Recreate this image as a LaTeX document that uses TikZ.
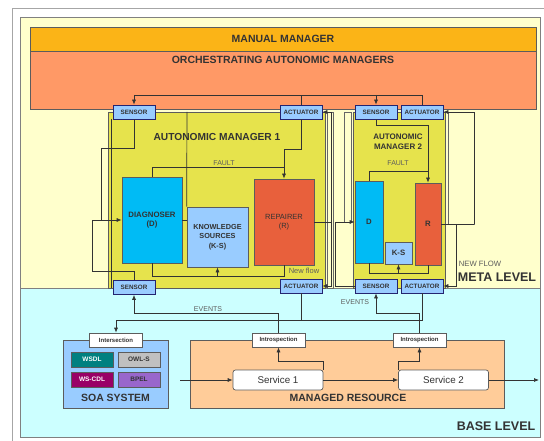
\documentclass[tikz,border=0pt]{standalone}
\usepackage{fontspec}
\setmainfont{Liberation Sans}
\usetikzlibrary{arrows.meta}
\definecolor{metabg}{HTML}{FFFFCC}
\definecolor{basebg}{HTML}{CCFFFF}
\definecolor{manualc}{HTML}{FBB417}
\definecolor{orchc}{HTML}{FF9966}
\definecolor{amc}{HTML}{E6E34C}
\definecolor{sensc}{HTML}{99CCFF}
\definecolor{diagc}{HTML}{00BBF5}
\definecolor{repc}{HTML}{E8603C}
\definecolor{mrc}{HTML}{FFCC99}
\definecolor{wsdlc}{HTML}{008080}
\definecolor{wscdlc}{HTML}{990066}
\definecolor{owlc}{HTML}{C0C0C0}
\definecolor{bpelc}{HTML}{9966CC}
\definecolor{txt}{HTML}{333333}
\definecolor{lnc}{HTML}{333333}
\tikzset{
  conn/.style={draw=lnc, line width=0.7pt},
  arr/.style={conn, -{Latex[length=5pt,width=4pt]}},
  frame/.style={draw=gray!80!black, line width=0.6pt},
  boxed/.style={draw=lnc!80, line width=0.7pt, inner sep=0pt, align=center, text=txt},
  sensbox/.style={boxed, fill=sensc, draw=lnc!70!blue, minimum width=42pt, minimum height=14pt, font=\fontsize{6.3}{7}\selectfont\bfseries},
  compbox/.style={boxed, font=\fontsize{7.8}{9.5}\selectfont\bfseries},
  langbox/.style={boxed, minimum width=42pt, minimum height=15pt, font=\fontsize{6.5}{7}\selectfont\bfseries},
  whitebox/.style={boxed, fill=white, minimum width=53pt, minimum height=14pt, font=\fontsize{6}{7}\selectfont\bfseries},
  svcbox/.style={boxed, fill=white, rounded corners=2.5pt, minimum width=90pt, minimum height=20pt, font=\fontsize{9.8}{11}\selectfont},
  biglabel/.style={text=txt, font=\fontsize{10.5}{12}\selectfont\bfseries, inner sep=0pt},
  small/.style={text=lnc!80, font=\fontsize{7}{8}\selectfont, inner sep=0pt},
}
\begin{document}
\begin{tikzpicture}[x=1pt,y=-1pt]
\useasboundingbox (0,0) rectangle (544,441);
\fill[white] (0,0) rectangle (544,441);
\draw[gray!70, line width=0.8pt] (12,441) -- (12,8) -- (544,8);
% levels
\node[boxed, draw=gray, fill=metabg, minimum width=520pt, minimum height=271pt] (meta) at (280,152.5) {};
\node[boxed, draw=gray, fill=basebg, minimum width=520pt, minimum height=149pt] (base) at (280,362.5) {};
% top managers
\node[boxed, fill=manualc, minimum width=506pt, minimum height=24pt] (manual) at (283,39) {};
\node[biglabel] (manualt) at (283,39) {MANUAL MANAGER};
\node[boxed, fill=orchc, minimum width=506pt, minimum height=58pt] (orch) at (283,80) {};
\node[biglabel] (orcht) at (283,60) {ORCHESTRATING AUTONOMIC MANAGERS};
% autonomic managers
\node[boxed, fill=amc, minimum width=217pt, minimum height=176pt] (am1) at (216.5,200) {};
\draw[conn] (111,119) -- (111,288);
\draw[frame] (327,112) rectangle (333,288);
\node[boxed, fill=amc, minimum width=92pt, minimum height=176pt] (am2) at (399,200) {};
\draw[frame] (344,112) rectangle (351,222);
\draw[frame] (448,112) rectangle (474,224);
\node[biglabel, font=\fontsize{10.2}{12}\selectfont\bfseries] (am1t) at (217,137) {AUTONOMIC MANAGER 1};
\node[biglabel, align=center, font=\fontsize{8}{10}\selectfont\bfseries] (am2t) at (398,142) {AUTONOMIC\\MANAGER 2};
% sensors / actuators
\node[sensbox] (s1t) at (134,112) {SENSOR};
\node[sensbox] (a1t) at (301,112) {ACTUATOR};
\node[sensbox] (s2t) at (376,112) {SENSOR};
\node[sensbox] (a2t) at (422,112) {ACTUATOR};
\node[sensbox] (s1b) at (134,287.5) {SENSOR};
\node[sensbox] (a1b) at (301,286) {ACTUATOR};
\node[sensbox] (s2b) at (376,286) {SENSOR};
\node[sensbox] (a2b) at (422,286) {ACTUATOR};
% components
\node[compbox, fill=diagc, minimum width=60pt, minimum height=86pt] (D1) at (152,220) {DIAGNOSER\\(D)};
\node[compbox, fill=sensc, minimum width=61pt, minimum height=60pt, font=\fontsize{7.3}{9.5}\selectfont\bfseries] (KS1) at (217.5,237) {KNOWLEDGE\\SOURCES\\(K-S)};
\node[compbox, fill=repc, minimum width=60pt, minimum height=86pt, font=\fontsize{7.5}{9.5}\selectfont] (R1) at (284,222) {REPAIRER\\(R)};
\node[compbox, fill=diagc, minimum width=28pt, minimum height=82pt] (D2) at (369,222) {D};
\node[compbox, fill=sensc, minimum width=27pt, minimum height=22pt] (KS2) at (398.5,253) {K-S};
\node[compbox, fill=repc, minimum width=26pt, minimum height=82pt] (R2) at (428,224) {R};
% top bus
\draw[conn] (134,95) -- (422,95);
\draw[arr] (134,95) -- (s1t.north);
\draw[conn] (a1t.north) -- (301,95);
\draw[arr] (376,95) -- (s2t.north);
\draw[conn] (a2t.north) -- (422,95);
% AM1 wiring
\draw[arr] (s1t.south) |- (101,148) |- (D1.west);
\draw[conn] (s1b.north) |- (92,271) |- (101,220);
\draw[conn] (D1.east) -- (D1.east -| KS1.west);
\draw[conn] (KS1.north west) -- (187,112);
\draw[conn] (D1.north) |- (284,167);
\draw[arr] (a1t.south) |- (284,149) -- (R1.north);
\draw[conn] (D1.south) |- (284,276) -- (R1.south);
\draw[arr] (217.5,276) -- (KS1.south);
\draw[conn] (R1.east) -- (331,222);
\draw[arr] (331,222) |- (a1t.east);
\draw[arr] (331,222) |- (a1b.east);
\node[small] (f1) at (224,163) {FAULT};
\node[small, font=\fontsize{7.5}{8}\selectfont] (nf1) at (304,271) {New flow};
% AM2 wiring
\draw[arr] (s2t.south) |- (428,125) -- (R2.north);
\draw[conn] (D2.north) |- (428,171);
\draw[arr] (s2b.west) -| (335,222) -- (D2.west);
\draw[conn] (D2.south) |- (428,273) -- (R2.south);
\draw[arr] (398.5,273) -- (KS2.south);
\draw[conn] (R2.east) -- (474,224);
\draw[arr] (474,224) |- (a2t.east);
\draw[arr] (456,224) |- (a2b.east);
\node[small] (f2) at (398,163) {FAULT};
\node[small, font=\fontsize{7.7}{8}\selectfont] (nf2) at (480,264) {NEW FLOW};
\node[biglabel, font=\fontsize{12.5}{14}\selectfont\bfseries] (metat) at (497,277) {META LEVEL};
% base level
\node[boxed, fill=sensc, minimum width=105pt, minimum height=68pt] (soa) at (115.5,374) {};
\node[whitebox] (inter) at (116,340) {Intersection};
\node[langbox, fill=wsdlc, text=white] (wsdl) at (92,359.5) {WSDL};
\node[langbox, fill=owlc] (owl) at (139,359.5) {OWL-S};
\node[langbox, fill=wscdlc, text=white] (wscdl) at (92,379.5) {WS-CDL};
\node[langbox, fill=bpelc] (bpel) at (139,379.5) {BPEL};
\node[biglabel] (soat) at (115.5,398) {SOA SYSTEM};
\node[boxed, fill=mrc, minimum width=314pt, minimum height=68pt] (mr) at (347,374) {};
\node[biglabel] (mrt) at (348,398) {MANAGED RESOURCE};
\node[whitebox] (intro1) at (278.5,340) {Introspection};
\node[whitebox] (intro2) at (419.5,340) {Introspection};
\node[svcbox] (svc1) at (278,380) {Service 1};
\node[svcbox] (svc2) at (443.5,380) {Service 2};
\coordinate (in) at (180,380);
\coordinate (out) at (539,380);
\draw[arr] (in) -- (svc1.west);
\draw[arr] (svc1.east) -- (svc2.west);
\draw[arr] (svc2.east) -- (out);
\draw[arr] (svc1.north east) |- (278.5,361) -- (intro1.south);
\draw[arr] (svc2.north west) |- (419.5,361) -- (intro2.south);
\draw[arr] (intro1.north) |- (134,313) -- (s1b.south);
\draw[arr] (intro2.north) |- (376,313) -- (s2b.south);
\draw[arr] (a2b.south) |- (116,320) -- (inter.north);
\draw[conn] (a1b.south) -- (301,320);
\node[small] (ev1) at (208,309) {EVENTS};
\node[small] (ev2) at (355,302) {EVENTS};
\node[biglabel, font=\fontsize{12.5}{14}\selectfont\bfseries] (baset) at (496,426) {BASE LEVEL};
\end{tikzpicture}
\end{document}
